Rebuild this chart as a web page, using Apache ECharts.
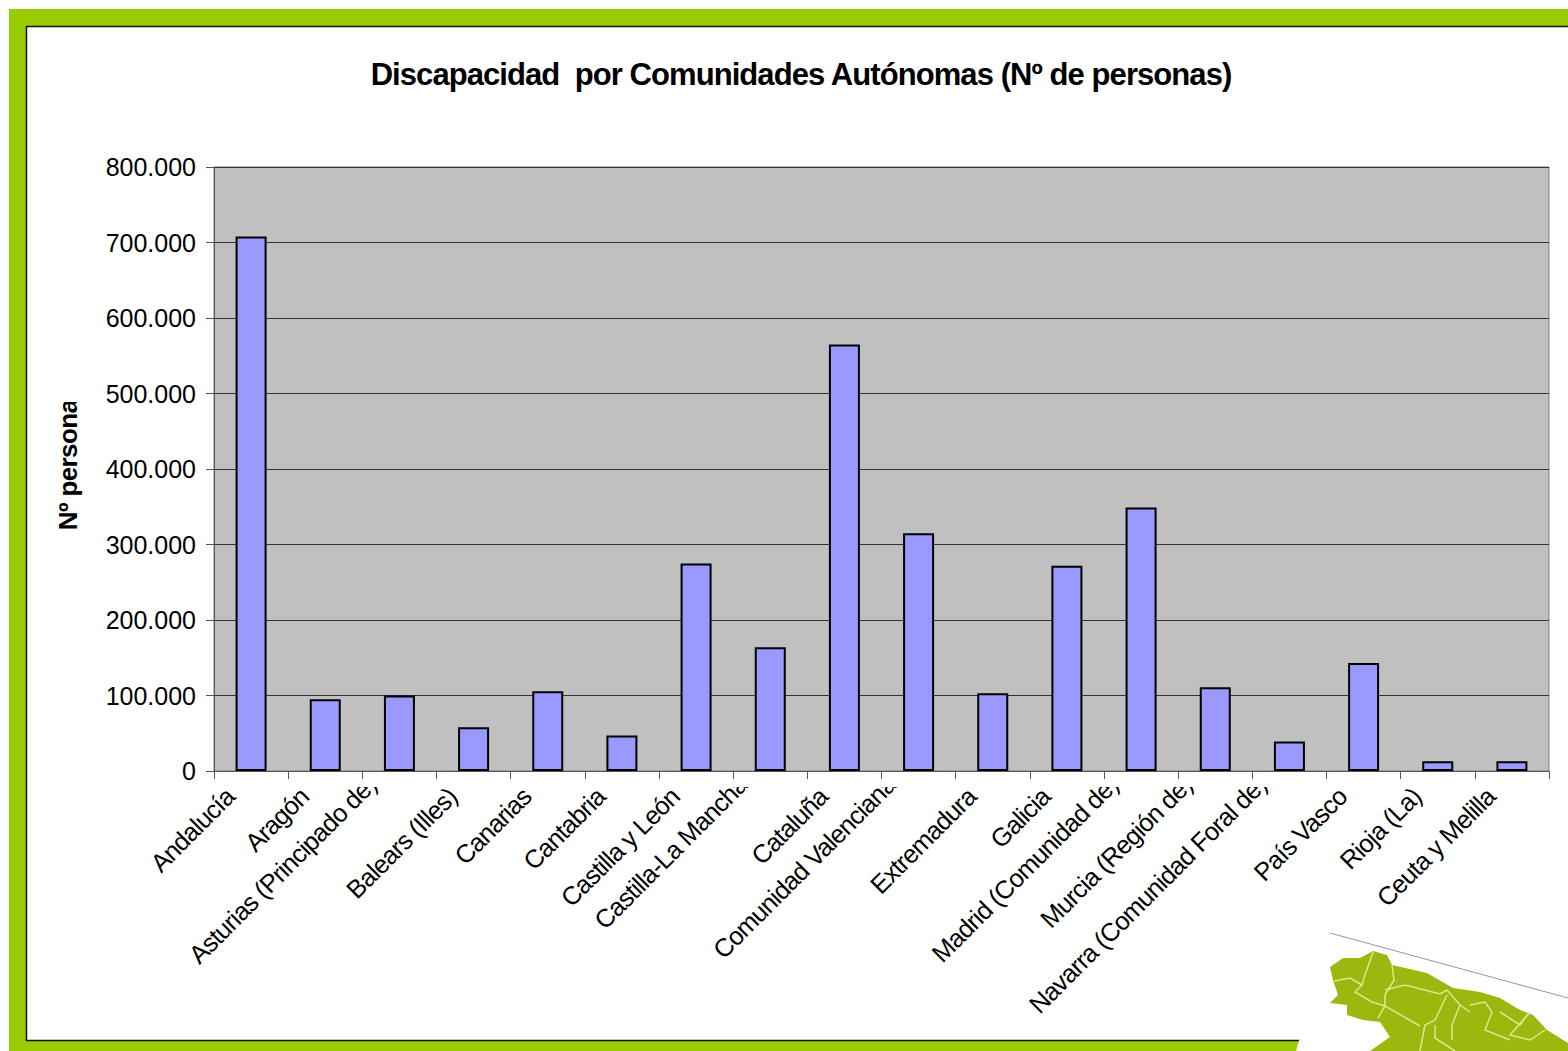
<!DOCTYPE html>
<html><head><meta charset="utf-8">
<style>
html,body{margin:0;padding:0;background:#fff}
#c{width:1568px;height:1051px}
text[style*="31px"]{letter-spacing:-.93px}
text[style*="25.5px"]{letter-spacing:-.8px}
text[style*="26px"]{letter-spacing:-.6px}
</style>
<script src="https://cdn.jsdelivr.net/npm/echarts@6/dist/echarts.min.js"></script>
</head><body><div id="c"></div>
<script>
const chartTitle = 'Discapacidad  por Comunidades Autónomas (Nº de personas)';
const yAxisName = 'Nº personas';
const categories = ['Andalucía','Aragón','Asturias (Principado de)','Balears (Illes)','Canarias','Cantabria','Castilla y León','Castilla-La Mancha','Cataluña','Comunidad Valenciana','Extremadura','Galicia','Madrid (Comunidad de)','Murcia (Región de)','Navarra (Comunidad Foral de)','País Vasco','Rioja (La)','Ceuta y Melilla'];
const clippedCategories = ['Asturias (Principado de)','Castilla-La Mancha','Comunidad Valenciana','Madrid (Comunidad de)','Murcia (Región de)','Navarra (Comunidad Foral de)'];
const personas = [708000,95000,100000,58000,105500,47000,275000,164000,565000,315000,103000,272000,349000,111000,39000,143000,13000,13000];
const yMax = 800000;
const yStep = 100000;

const font = '"Liberation Sans", Arial, sans-serif';
const chart = echarts.init(document.getElementById('c'), null, {renderer:'svg', width:1568, height:1051});
const mapBorders = [
 [[1373,952],[1365,975],[1362,985],[1350,978],[1334,981]],
 [[1362,985],[1355,992],[1372,1002],[1385,1006],[1378,1018]],
 [[1392,965],[1394,980],[1385,995],[1385,1006],[1420,1026]],
 [[1385,990],[1405,985],[1440,994],[1447,990],[1460,1005],[1470,1012]],
 [[1447,995],[1435,1020],[1425,1025],[1420,1051]],
 [[1435,1025],[1435,1038],[1455,1051]],
 [[1460,1005],[1452,1025],[1452,1040]],
 [[1470,1005],[1485,1002],[1492,1012],[1485,1030],[1510,1040]],
 [[1500,1012],[1520,1025],[1530,1012]],
 [[1530,1012],[1510,1035],[1530,1040],[1545,1030]]
];
const deco = [
 {type:'rect',shape:{x:9,y:9,width:1559,height:1042},style:{fill:'#99CC00'},z:-5,silent:true},
 {type:'rect',shape:{x:26.5,y:26.5,width:1545,height:1014},style:{fill:'#fff',stroke:'#111',lineWidth:1.5},z:-4,silent:true},
 {type:'polygon',shape:{points:[[1330,933],[1568,998],[1568,1051],[1296,1051]]},style:{fill:'#fff'},z:-3,silent:true},
 {type:'polyline',shape:{points:[[1330,933],[1568,998]]},style:{stroke:'#999',lineWidth:1,fill:null},z:-2,silent:true},
 {type:'polygon',shape:{points:[[1330,967],[1343,958],[1360,958],[1373,951],[1387,955],[1392,965],[1427,973],[1453,988],[1480,992],[1500,998],[1520,1010],[1533,1015],[1547,1030],[1568,1043],[1568,1051],[1370,1051],[1390,1037],[1380,1022],[1363,1020],[1347,1015],[1347,1005],[1330,1003],[1338,995],[1333,980]]},style:{fill:'#9CB80F'},z:-2,silent:true},
 // white masks reproducing the reference's clipped label tops
 {type:'rect',shape:{x:215,y:772.5,width:1353,height:14.5},style:{fill:'#fff'},z:9000,silent:true},
 {type:'rect',shape:{x:50,y:380,width:40,height:22},style:{fill:'#fff'},z:9000,silent:true}
].concat(mapBorders.map(p=>({type:'polyline',shape:{points:p},style:{stroke:'#DDE88A',lineWidth:1.5,fill:null},z:-1,silent:true})));

const axisColor = {lineStyle:{color:'#555',width:1}};
chart.setOption({
 animation:false,
 backgroundColor:'#fff',
 graphic:deco,
 title:{text:chartTitle,left:796,top:69,textAlign:'center',textVerticalAlign:'middle',
   textStyle:{fontFamily:font,fontWeight:'bold',fontSize:31,color:'#000'}},
 grid:{left:214,top:167,width:1335,height:604,show:true,backgroundColor:'#C0C0C0',borderColor:'#808080',borderWidth:1},
 xAxis:[{type:'category',position:'bottom',
   data:categories.map(c=>clippedCategories.includes(c)?{value:c,textStyle:{padding:[0,26,0,0],verticalAlign:'bottom'}}:c),
   axisLine:{show:true,...axisColor},
   axisTick:{show:true,alignWithLabel:false,length:8,...axisColor},
   axisLabel:{interval:0,rotate:45,margin:0,padding:[0,30,0,0],fontFamily:font,fontSize:25.5,color:'#000',hideOverlap:false},
   splitLine:{show:false}},
  {type:'category',position:'bottom',z:9500,data:categories,
   axisLine:{show:true,onZero:false,...axisColor},
   axisTick:{show:true,alignWithLabel:false,interval:0,length:8,...axisColor},
   axisLabel:{show:false},splitLine:{show:false}}],
 yAxis:{type:'value',min:0,max:yMax,interval:yStep,name:yAxisName,nameLocation:'middle',nameGap:133,nameRotate:90,
   nameTextStyle:{fontFamily:font,fontSize:26,fontWeight:'bold',color:'#000',padding:[0,0,0,22]},
   axisLine:{show:true,lineStyle:{color:'#555'}},
   axisTick:{show:true,length:8,lineStyle:{color:'#555'}},
   axisLabel:{margin:18,padding:[0,0,4,0],fontFamily:font,fontSize:25,color:'#000',formatter:v=>String(v).replace(/\B(?=(\d{3})+$)/g,'.')},
   splitLine:{show:true,lineStyle:{color:'#333',width:1}}},
 series:[{type:'bar',data:personas,xAxisIndex:0,barWidth:31,itemStyle:{color:'#9999FF',borderColor:'#000',borderWidth:2}}]
});
</script></body></html>
